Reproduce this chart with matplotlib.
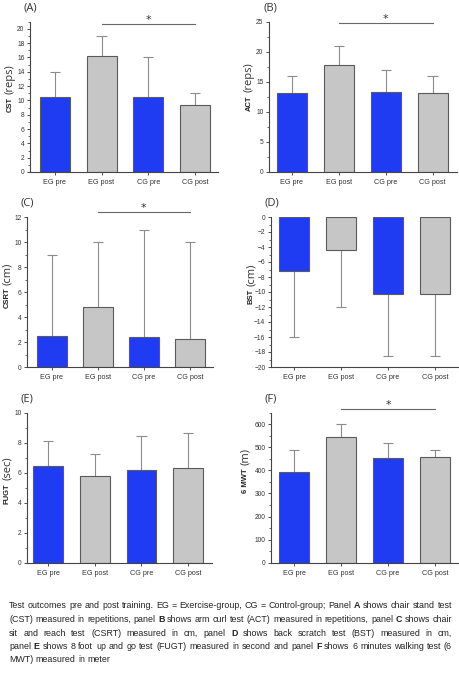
import numpy as np
import matplotlib.pyplot as plt
from matplotlib.ticker import MultipleLocator

groups = ['EG pre', 'EG post', 'CG pre', 'CG post']
bar_colors = ['#1f3cf2', '#c6c6c6', '#1f3cf2', '#c6c6c6']

# means and SD
cst_mean = [10.5, 16.2, 10.5, 9.3]
cst_sd = [3.5, 2.8, 5.5, 1.7]
act_mean = [13.2, 17.8, 13.4, 13.1]
act_sd = [2.8, 3.2, 3.6, 2.9]
csrt_mean = [2.5, 4.85, 2.45, 2.3]
csrt_sd = [6.5, 5.15, 8.55, 7.7]
bst_mean = [-7.2, -4.4, -10.3, -10.2]
bst_sd = [8.8, 7.6, 8.2, 8.3]
fugt_mean = [6.45, 5.8, 6.15, 6.3]
fugt_sd = [1.65, 1.45, 2.3, 2.35]
mwt_mean = [392, 546, 455, 456]
mwt_sd = [95, 55, 62, 31]

caption_lines = [
    "Test outcomes pre and post training. EG = Exercise-group, CG = Control-group; Panel **A** shows chair stand test",
    "(CST) measured in repetitions, panel **B** shows arm curl test (ACT) measured in repetitions, panel **C** shows chair",
    "sit and reach test (CSRT) measured in cm, panel **D** shows back scratch test (BST) measured in cm,",
    "panel **E** shows 8 foot up and go test (FUGT) measured in second and panel **F** shows 6 minutes walking test (6",
    "MWT) measured in meter",
]

W, H = 460, 680
fig = plt.figure(figsize=(4.6, 6.8), dpi=100)

# name, label, unit, mean, sd, axes rect (px: left, top, right, bottom), xlim, ylim, major, minor, sig line
panels = [
    ('(A)', 'CST', '(reps)', cst_mean, cst_sd, (30, 21.7, 218, 172), (-0.53, 3.49), (0, 21), 2, 1, 20.66, 0.50),
    ('(B)', 'ACT', '(reps)', act_mean, act_sd, (269, 22, 457, 172), (-0.49, 3.52), (0, 25), 5, 2.5, 24.8, 0.51),
    ('(C)', 'CSRT', '(cm)', csrt_mean, csrt_sd, (27, 217.3, 213, 367.3), (-0.54, 3.5), (0, 12), 2, 1, 12.45, 0.53),
    ('(D)', 'BST', '(cm)', bst_mean, bst_sd, (271, 217, 458, 367), (-0.49, 3.49), (-20, 0), 2, 1, None, 0.52),
    ('(E)', 'FUGT', '(sec)', fugt_mean, fugt_sd, (27, 412.7, 212, 562.7), (-0.45, 3.51), (0, 10), 2, 1, None, 0.53),
    ('(F)', '6 MWT', '(m)', mwt_mean, mwt_sd, (271, 412.7, 458, 562.7), (-0.49, 3.49), (0, 650), 100, 50, 666, 0.63),
]

x = np.arange(len(groups))
for tag, lab, unit, mean, sd, rect, xl, yl, major, minor, sig, lab_y in panels:
    l, t, r, b = rect
    ax = fig.add_axes([l / W, 1 - b / H, (r - l) / W, (b - t) / H])
    mean = np.array(mean)
    sd = np.array(sd)
    tips = np.where(mean < 0, mean - sd, mean + sd)
    ax.vlines(x, mean, tips, color='#8c8c8c', lw=0.8, zorder=1)
    ax.hlines(tips, x - 0.11, x + 0.11, color='#8c8c8c', lw=0.8, zorder=1)
    ax.bar(x, mean, width=0.64, color=bar_colors, edgecolor='#5a5a5a', linewidth=0.8, zorder=2)
    ax.set_xlim(*xl)
    ax.set_ylim(*yl)
    ax.yaxis.set_major_locator(MultipleLocator(major))
    ax.yaxis.set_minor_locator(MultipleLocator(minor))
    ax.set_xticks(x)
    ax.set_xticklabels(groups, family='Liberation Sans')
    for tl in ax.get_yticklabels():
        tl.set_family('Liberation Sans')
    ax.tick_params(axis='both', which='major', length=2.5, width=0.6, pad=1.5, colors='#333333')
    ax.tick_params(axis='x', labelsize=5.2, pad=2.5)
    ax.tick_params(axis='y', labelsize=4.8)
    ax.tick_params(axis='y', which='minor', length=1.5, width=0.5, colors='#333333')
    for s in ['top', 'right']:
        ax.spines[s].set_visible(False)
    for s in ['left', 'bottom']:
        ax.spines[s].set_color('#444444')
        ax.spines[s].set_linewidth(0.8)
    # y label: short name bold, unit in a larger font
    lx = -16 / (r - l) - (0.03 if major >= 100 else 0.0) - 0.02
    ax.text(lx, lab_y, lab, transform=ax.transAxes, rotation=90, rotation_mode='anchor',
            ha='right', va='center', fontsize=5.5, fontweight='bold', family='Liberation Sans', color='#222222')
    ax.text(lx, lab_y + 0.02, unit, transform=ax.transAxes, rotation=90, rotation_mode='anchor',
            ha='left', va='center', fontsize=8, family='Open Sans', color='#333333')
    if sig is not None:
        ax.plot([1, 3], [sig, sig], color='#666666', lw=0.8, clip_on=False)
        ax.annotate('*', (2, sig), xytext=(0, 3), textcoords='offset points', ha='center', va='center',
                    fontsize=8, color='#333333', annotation_clip=False)
    fig.text((l - 6) / W, 1 - (t - 14) / H, tag, fontsize=8, family='Open Sans', color='#333333',
             ha='left', va='center')

# justified caption, font size fitted to the second line
fig.canvas.draw()
rend = fig.canvas.get_renderer()
cap_left, cap_right = 9, 452
cap_y = [606, 619.5, 633, 646.5, 660]
probe = fig.text(0, 0, caption_lines[1].replace('*', ''), fontsize=6, family='Liberation Sans')
fs = 6 * (cap_right - cap_left - 2) / probe.get_window_extent(rend).width
probe.remove()
for i, line in enumerate(caption_lines):
    arts = []
    for w in line.split(' '):
        bold = w.startswith('**')
        arts.append(fig.text(0, 1 - cap_y[i] / H, w.strip('*'), fontsize=fs,
                             fontweight='bold' if bold else 'normal',
                             family='Liberation Sans', color='#222222', va='center'))
    widths = [a.get_window_extent(rend).width for a in arts]
    if i < len(caption_lines) - 1:
        gap = (cap_right - cap_left - sum(widths)) / (len(arts) - 1)
    else:
        gap = fs * 0.278 * 100 / 72
    pos = cap_left
    for a, wd in zip(arts, widths):
        a.set_x(pos / W)
        pos += wd + gap

fig.savefig('out.png', dpi=100)
